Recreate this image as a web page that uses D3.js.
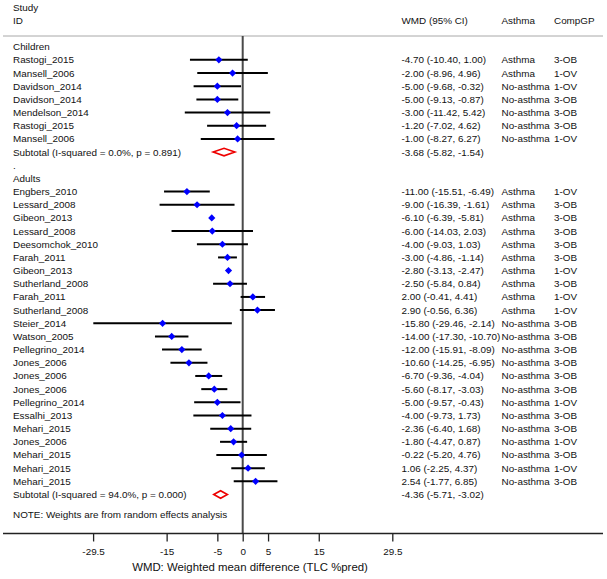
<!DOCTYPE html>
<html><head><meta charset="utf-8">
<script src="https://cdn.jsdelivr.net/npm/d3@7"></script>
<style>body{margin:0;background:#fff}svg{display:block}text{font-family:"Liberation Sans",Arial,Helvetica,sans-serif;fill:#111}</style>
</head><body>
<svg id="c" width="607" height="579"></svg>
<script>
// ---- data ----
const childStudies = ["Rastogi_2015","Mansell_2006","Davidson_2014","Davidson_2014","Mendelson_2014","Rastogi_2015","Mansell_2006"];
const childWMD = [-4.70,-2.00,-5.00,-5.00,-3.00,-1.20,-1.00];
const childLo  = [-10.40,-8.96,-9.68,-9.13,-11.42,-7.02,-8.27];
const childHi  = [1.00,4.96,-0.32,-0.87,5.42,4.62,6.27];
const childAsthma = ["Asthma","Asthma","No-asthma","No-asthma","No-asthma","No-asthma","No-asthma"];
const childComp = ["3-OB","1-OV","1-OV","3-OB","3-OB","3-OB","1-OV"];
const childSubtotal = {label:"Subtotal  (I-squared = 0.0%, p = 0.891)", est:-3.68, lo:-5.82, hi:-1.54};

const adultStudies = ["Engbers_2010","Lessard_2008","Gibeon_2013","Lessard_2008","Deesomchok_2010","Farah_2011","Gibeon_2013","Sutherland_2008","Farah_2011","Sutherland_2008","Steier_2014","Watson_2005","Pellegrino_2014","Jones_2006","Jones_2006","Jones_2006","Pellegrino_2014","Essalhi_2013","Mehari_2015","Jones_2006","Mehari_2015","Mehari_2015","Mehari_2015"];
const adultWMD = [-11.00,-9.00,-6.10,-6.00,-4.00,-3.00,-2.80,-2.50,2.00,2.90,-15.80,-14.00,-12.00,-10.60,-6.70,-5.60,-5.00,-4.00,-2.36,-1.80,-0.22,1.06,2.54];
const adultLo  = [-15.51,-16.39,-6.39,-14.03,-9.03,-4.86,-3.13,-5.84,-0.41,-0.56,-29.46,-17.30,-15.91,-14.25,-9.36,-8.17,-9.57,-9.73,-6.40,-4.47,-5.20,-2.25,-1.77];
const adultHi  = [-6.49,-1.61,-5.81,2.03,1.03,-1.14,-2.47,0.84,4.41,6.36,-2.14,-10.70,-8.09,-6.95,-4.04,-3.03,-0.43,1.73,1.68,0.87,4.76,4.37,6.85];
const adultAsthma = ["Asthma","Asthma","Asthma","Asthma","Asthma","Asthma","Asthma","Asthma","Asthma","Asthma","No-asthma","No-asthma","No-asthma","No-asthma","No-asthma","No-asthma","No-asthma","No-asthma","No-asthma","No-asthma","No-asthma","No-asthma","No-asthma"];
const adultComp = ["1-OV","3-OB","3-OB","3-OB","3-OB","3-OB","1-OV","3-OB","1-OV","1-OV","3-OB","3-OB","3-OB","3-OB","3-OB","3-OB","1-OV","3-OB","3-OB","1-OV","3-OB","1-OV","3-OB"];
const adultSubtotal = {label:"Subtotal  (I-squared = 94.0%, p = 0.000)", est:-4.36, lo:-5.71, hi:-3.02};

const tickValues = [-29.5,-15,-5,0,5,15,29.5];
const tickLabels = ["-29.5","-15","-5","0","5","15","29.5"];
const axisTitle = "WMD: Weighted mean difference (TLC %pred)";
const note = "NOTE: Weights are from random effects analysis";

// ---- build rows ----
const rows = [];
rows.push({type:"group", label:"Children"});
childStudies.forEach((s,i)=>rows.push({type:"study",label:s,est:childWMD[i],lo:childLo[i],hi:childHi[i],asthma:childAsthma[i],comp:childComp[i]}));
rows.push(Object.assign({type:"sub"}, childSubtotal));
rows.push({type:"group", label:"."});
rows.push({type:"group", label:"Adults"});
adultStudies.forEach((s,i)=>rows.push({type:"study",label:s,est:adultWMD[i],lo:adultLo[i],hi:adultHi[i],asthma:adultAsthma[i],comp:adultComp[i]}));
rows.push(Object.assign({type:"sub"}, adultSubtotal));

const f2 = v => v.toFixed(2);
const ciText = d => `${f2(d.est)} (${f2(d.lo)}, ${f2(d.hi)})`;

// ---- scales ----
const svg = d3.select("#c");
const x = d3.scaleLinear().domain([-29.5,29.5]).range([93.1,392.3]);
const y = d3.scaleLinear().domain([0,34]).range([46.7,494.5]);
const axisY = 533.5, topY = 36;
const FS = "9.9px";

// header
const hdr = svg.append("g").style("font-size",FS);
hdr.append("text").attr("x",13).attr("y",7.5).attr("dy","0.35em").text("Study");
hdr.append("text").attr("x",13).attr("y",20.8).attr("dy","0.35em").text("ID");
hdr.append("text").attr("x",401.5).attr("y",20.8).attr("dy","0.35em").text("WMD (95% CI)");
hdr.append("text").attr("x",501.5).attr("y",20.8).attr("dy","0.35em").text("Asthma");
hdr.append("text").attr("x",554).attr("y",20.8).attr("dy","0.35em").text("CompGP");
svg.append("line").attr("x1",3).attr("x2",603).attr("y1",topY).attr("y2",topY).attr("stroke","#a8a8a8").attr("stroke-width",1);

// zero line
svg.append("line").attr("x1",x(0)).attr("x2",x(0)).attr("y1",topY).attr("y2",axisY).attr("stroke","#4a4a4a").attr("stroke-width",2);

// rows
const g = svg.append("g").style("font-size",FS);
rows.forEach((d,i)=>{
  const yy = y(i);
  g.append("text").attr("x",13).attr("y",yy).attr("dy","0.35em").text(d.label);
  if(d.type==="study"){
    g.append("line").attr("x1",x(d.lo)).attr("x2",x(d.hi)).attr("y1",yy).attr("y2",yy).attr("stroke","#000").attr("stroke-width",2);
    const cx = x(d.est), r=3.6;
    g.append("path").attr("d",`M${cx-r},${yy}L${cx},${yy-r}L${cx+r},${yy}L${cx},${yy+r}Z`).attr("fill","#0000ff");
    g.append("text").attr("x",401.5).attr("y",yy).attr("dy","0.35em").text(ciText(d));
    g.append("text").attr("x",501.5).attr("y",yy).attr("dy","0.35em").text(d.asthma);
    g.append("text").attr("x",554).attr("y",yy).attr("dy","0.35em").text(d.comp);
  } else if(d.type==="sub"){
    const h=3.8;
    g.append("path").attr("d",`M${x(d.lo)},${yy}L${x(d.est)},${yy-h}L${x(d.hi)},${yy}L${x(d.est)},${yy+h}Z`)
      .attr("fill","none").attr("stroke","#ee0000").attr("stroke-width",1.6);
    g.append("text").attr("x",401.5).attr("y",yy).attr("dy","0.35em").text(ciText(d));
  }
});
g.append("text").attr("x",13).attr("y",515).attr("dy","0.35em").text(note);

// axis
svg.append("line").attr("x1",3).attr("x2",603).attr("y1",axisY).attr("y2",axisY).attr("stroke","#222").attr("stroke-width",1.3);
const ax = svg.append("g").attr("transform",`translate(0,${axisY})`)
  .call(d3.axisBottom(x).tickValues(tickValues).tickFormat((d,i)=>tickLabels[i]).tickSize(8).tickPadding(6));
ax.select(".domain").remove();
ax.selectAll(".tick line").attr("stroke","#222").attr("stroke-width",1.3);
ax.selectAll(".tick text").style("font-size",FS).style("font-family","Liberation Sans, Arial, sans-serif").attr("fill","#111");
svg.append("text").attr("x",250).attr("y",567).attr("dy","0.35em").attr("text-anchor","middle").style("font-size","11.4px").text(axisTitle);
</script>
</body></html>
